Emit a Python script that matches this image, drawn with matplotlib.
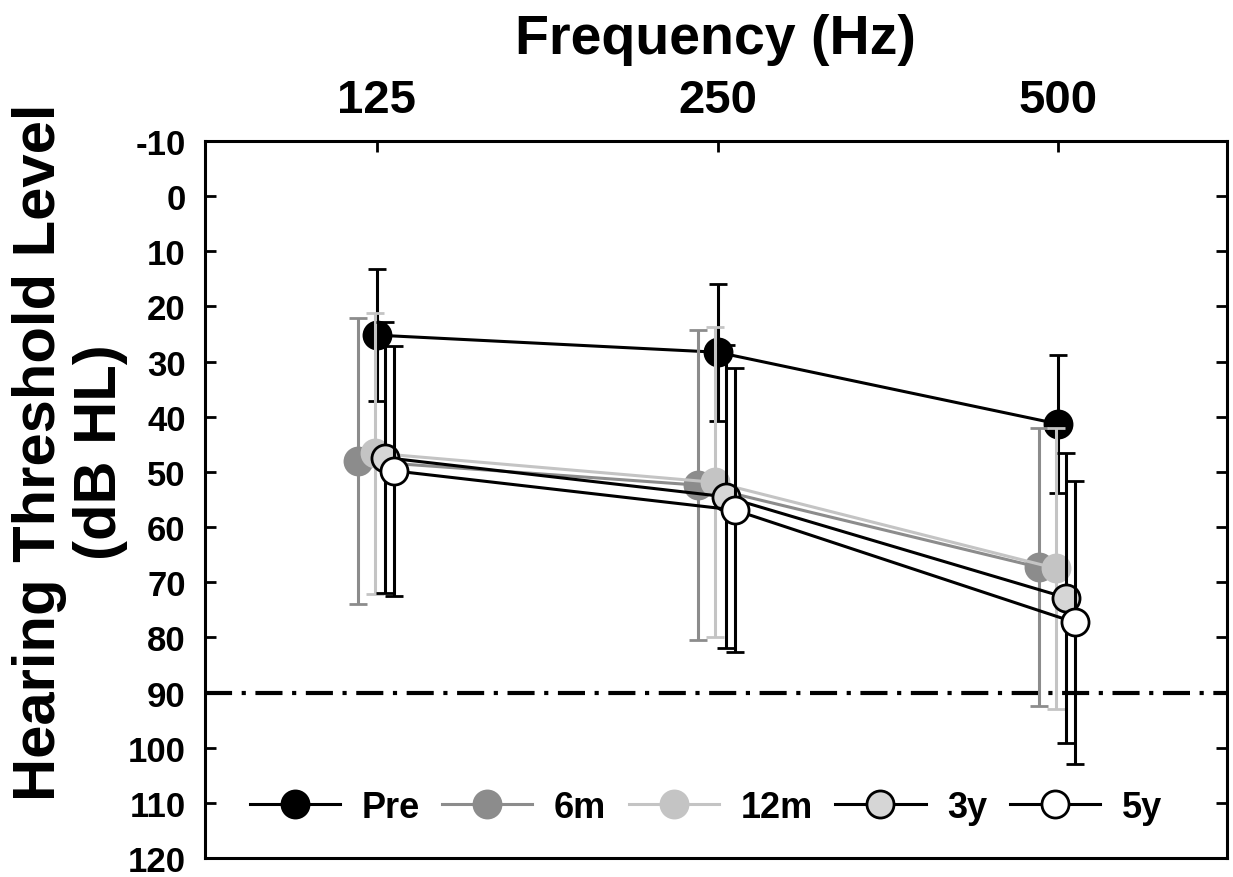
import matplotlib
matplotlib.use("Agg")
import matplotlib.pyplot as plt
import numpy as np

plt.rcParams['font.family'] = ['Liberation Sans', 'DejaVu Sans']
plt.rcParams['font.weight'] = 'bold'
plt.rcParams['axes.unicode_minus'] = False

# ---- data ----
frequencies = [125, 250, 500]
freq_labels = ['125', '250', '500']
groups = ['Pre', '6m', '12m', '3y', '5y']

pre_mean = [25.2, 28.3, 41.3]
pre_sd = [12.0, 12.4, 12.5]
m6_mean = [48.0, 52.4, 67.3]
m6_sd = [25.9, 28.1, 25.2]
m12_mean = [46.6, 51.9, 67.5]
m12_sd = [25.5, 28.1, 25.4]
y3_mean = [47.4, 54.5, 72.8]
y3_sd = [24.6, 27.5, 26.3]
y5_mean = [49.8, 56.9, 77.3]
y5_sd = [22.7, 25.7, 25.6]

reference_level = 90

means = [pre_mean, m6_mean, m12_mean, y3_mean, y5_mean]
sds = [pre_sd, m6_sd, m12_sd, y3_sd, y5_sd]

# ---- styles ----
offsets = [0.0, -0.056, -0.006, 0.0235, 0.05]   # octave offsets to avoid overlap
line_colors = ['#000000', '#8c8c8c', '#c4c4c4', '#000000', '#000000']
face_colors = ['#000000', '#8c8c8c', '#c4c4c4', '#d6d6d6', '#ffffff']
edge_colors = ['#000000', '#8c8c8c', '#c4c4c4', '#000000', '#000000']

fig = plt.figure(figsize=(12.33, 8.78), dpi=100)
ax = fig.add_axes([205/1233, 19/878, (1227-205)/1233, (859-142)/878])

handles = []
for i, g in enumerate(groups):
    x = [f * 2 ** offsets[i] for f in frequencies]
    cont = ax.errorbar(x, means[i], yerr=sds[i], color=line_colors[i], ecolor=line_colors[i],
                       elinewidth=2.2, capsize=6.5, capthick=2.2, lw=2.2,
                       marker='o', markersize=19.5, markerfacecolor=face_colors[i],
                       markeredgecolor=edge_colors[i], markeredgewidth=2.0,
                       label=g, zorder=3 + i)
    handles.append(cont.lines[0])

ax.axhline(reference_level, color='black', lw=3, linestyle=(0, (6.5, 2.3, 1, 2.3)), zorder=2)

ax.set_xscale('log', base=2)
ax.set_xlim(125 * 2 ** -0.505, 125 * 2 ** 2.496)
ax.set_ylim(120, -10)
ax.set_yticks(np.arange(-10, 121, 10))
ax.set_xticks(frequencies)
ax.set_xticklabels(freq_labels)
ax.minorticks_off()

ax.xaxis.tick_top()
ax.tick_params(axis='x', which='both', direction='in', length=8, width=2,
               top=True, bottom=False, labelsize=34, pad=14)
ax.tick_params(axis='y', direction='in', length=8, width=2, left=True, right=True,
               labelsize=25, pad=14)
for lab in ax.get_xticklabels() + ax.get_yticklabels():
    lab.set_fontweight('bold')
for s in ax.spines.values():
    s.set_linewidth(2.2)

fig.text(715/1233, 1 - 40/878, 'Frequency (Hz)', fontsize=40, fontweight='bold',
         ha='center', va='center')
fig.text(70/1233, 1 - 452/878, 'Hearing Threshold Level\n(dB HL)', fontsize=43,
         fontweight='bold', rotation=90, ha='center', va='center',
         multialignment='center', linespacing=1.15)

leg = ax.legend(handles, groups, loc='center', bbox_to_anchor=(0.49, 0.071), ncol=5,
                frameon=False, handlelength=2.5, handletextpad=0.6, columnspacing=0.62,
                prop={'weight': 'bold', 'size': 26})

fig.savefig('out.png', dpi=100)
